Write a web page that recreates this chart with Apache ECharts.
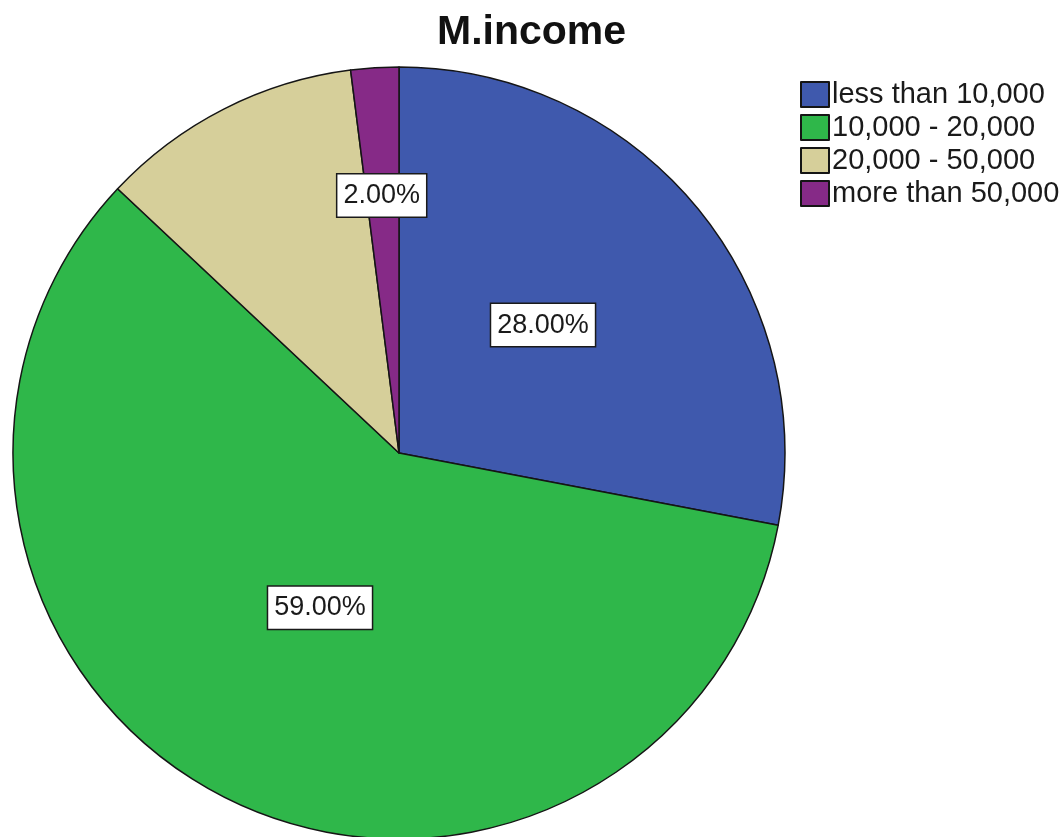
<!DOCTYPE html>
<html>
<head>
<meta charset="utf-8">
<title>M.income</title>
<script src="https://cdn.jsdelivr.net/npm/echarts@6/dist/echarts.min.js"></script>
<style>
  html, body { margin: 0; padding: 0; background: #ffffff; }
  #chart { width: 1061px; height: 837px; }
</style>
</head>
<body>
<div id="chart"></div>
<script>
// Monthly income groups and their share of respondents (%)
const categories = ['less than 10,000', '10,000 - 20,000', '20,000 - 50,000', 'more than 50,000'];
const percents = [28, 59, 11, 2];
const showLabel = [true, true, false, true];

const colors = ['#3f59ad', '#2fb74a', '#d6cf9a', '#862a87'];
// small nudges for the boxed percentage labels
const labelShift = [[-7, -3], [10, -20], [0, 0], [-5, -62]];

const chart = echarts.init(document.getElementById('chart'), null, { renderer: 'canvas' });

const font = '"Liberation Sans", Arial, sans-serif';

chart.setOption({
  backgroundColor: '#ffffff',
  animation: false,
  title: {
    text: 'M.income',
    left: 432,
    top: 7,
    textStyle: { fontFamily: font, fontSize: 41, fontWeight: 'bold', color: '#111111' }
  },
  legend: {
    orient: 'vertical',
    left: 800,
    top: 80,
    padding: 0,
    itemWidth: 28,
    itemHeight: 25,
    itemGap: 4,
    icon: 'rect',
    selectedMode: false,
    textStyle: { fontFamily: font, fontSize: 29, color: '#1a1a1a', padding: [0, 0, 0, -2] },
    data: categories
  },
  series: [{
    type: 'pie',
    center: [399, 453],
    radius: [0, 386],
    startAngle: 90,
    clockwise: true,
    avoidLabelOverlap: false,
    itemStyle: { borderColor: '#151515', borderWidth: 1.5 },
    label: {
      show: true,
      position: 'inside',
      formatter: p => p.value.toFixed(2) + '%',
      fontFamily: font,
      fontSize: 27,
      color: '#1a1a1a',
      backgroundColor: '#ffffff',
      borderColor: '#1a1a1a',
      borderWidth: 1.5,
      padding: [8, 6, 7, 6]
    },
    labelLine: { show: false },
    labelLayout: p => ({ dx: labelShift[p.dataIndex][0], dy: labelShift[p.dataIndex][1] }),
    emphasis: { disabled: true },
    data: categories.map((name, i) => ({
      name,
      value: percents[i],
      itemStyle: { color: colors[i] },
      label: { show: showLabel[i] }
    }))
  }]
});
</script>
</body>
</html>
